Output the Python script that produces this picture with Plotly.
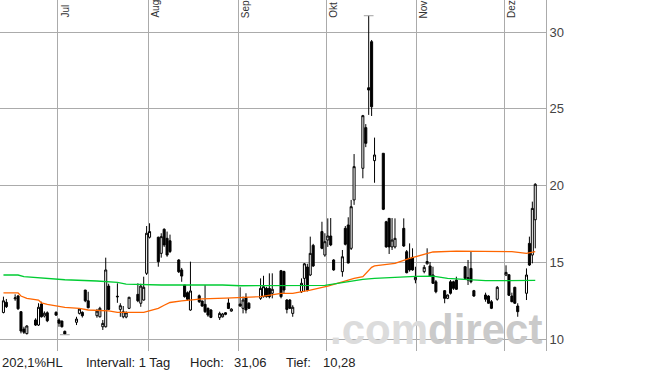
import pandas as pd
import plotly.graph_objects as go

# ---------------- data ----------------
dates = ["2008-06-12","2008-06-13","2008-06-16","2008-06-17","2008-06-18","2008-06-19","2008-06-20",
         "2008-06-23","2008-06-24","2008-06-25","2008-06-26","2008-06-27","2008-06-30",
         "2008-07-01","2008-07-02","2008-07-03","2008-07-07","2008-07-08","2008-07-09","2008-07-10","2008-07-11",
         "2008-07-14","2008-07-15","2008-07-16","2008-07-17","2008-07-18","2008-07-21","2008-07-22","2008-07-23",
         "2008-07-24","2008-07-25","2008-07-28","2008-07-29","2008-07-30","2008-07-31","2008-08-01",
         "2008-08-04","2008-08-05","2008-08-06","2008-08-07","2008-08-08","2008-08-11","2008-08-12","2008-08-13",
         "2008-08-14","2008-08-15","2008-08-18","2008-08-19","2008-08-20","2008-08-21","2008-08-22",
         "2008-08-25","2008-08-26","2008-08-27","2008-08-28","2008-08-29",
         "2008-09-01","2008-09-02","2008-09-03","2008-09-04","2008-09-08","2008-09-09","2008-09-10","2008-09-11",
         "2008-09-12","2008-09-15","2008-09-16","2008-09-17","2008-09-18","2008-09-19","2008-09-22","2008-09-23",
         "2008-09-24","2008-09-25","2008-09-26","2008-09-29","2008-09-30",
         "2008-10-01","2008-10-02","2008-10-03","2008-10-06","2008-10-07","2008-10-08","2008-10-09","2008-10-10",
         "2008-10-13","2008-10-14","2008-10-15","2008-10-16","2008-10-17","2008-10-20","2008-10-21","2008-10-22",
         "2008-10-23","2008-10-24","2008-10-27","2008-10-28","2008-10-29","2008-10-30","2008-10-31",
         "2008-11-03","2008-11-04","2008-11-05","2008-11-06","2008-11-07","2008-11-10","2008-11-11","2008-11-12",
         "2008-11-13","2008-11-14","2008-11-17","2008-11-18","2008-11-19","2008-11-20","2008-11-24","2008-11-25",
         "2008-11-26","2008-11-28",
         "2008-12-01","2008-12-02","2008-12-03","2008-12-04","2008-12-05","2008-12-08","2008-12-09","2008-12-10",
         "2008-12-11"]

opens = [11.73,12.39,12.62,12.80,11.78,10.65,10.35,
         11.24,10.91,12.28,11.50,11.71,11.74,
         11.24,11.17,10.50,11.09,11.67,11.74,13.19,12.49,
         11.52,11.45,10.80,10.80,13.45,12.74,11.93,11.45,
         11.43,12.00,12.91,12.33,12.54,14.28,16.63,
         16.63,15.58,17.15,16.56,16.40,15.15,14.50,13.52,
         13.02,11.89,12.82,12.48,12.26,12.00,11.89,
         11.39,11.45,11.71,12.35,11.82,
         12.28,12.00,12.72,12.33,12.65,12.76,13.30,13.30,
         12.98,14.45,14.40,12.54,12.54,11.67,13.08,13.95,
         14.69,14.17,16.10,17.00,15.47,
         16.45,16.71,15.15,14.39,17.21,17.43,15.91,19.06,
         21.12,23.77,26.37,29.37,21.62,22.10,17.64,17.86,
         16.00,16.00,17.21,15.69,15.26,15.32,13.86,
         14.39,14.90,14.76,14.17,13.73,13.15,12.65,13.73,
         13.73,13.84,14.71,13.84,14.60,13.15,12.87,12.80,
         12.43,12.59,
         14.17,14.19,12.80,13.37,12.15,12.98,16.23,15.47,
         17.77]

highs = [12.76,12.61,12.91,12.87,11.80,10.80,10.90,
         11.35,12.33,12.43,11.80,11.80,11.80,
         11.35,11.20,10.55,11.45,12.00,11.80,13.20,13.08,
         11.96,12.10,11.24,15.30,13.60,13.63,12.33,12.15,
         11.80,12.75,13.63,13.60,14.06,17.36,17.54,
         16.67,16.89,17.21,17.00,16.80,15.20,14.63,13.52,
         13.10,15.04,12.90,12.50,13.52,12.05,11.95,
         11.78,11.70,11.75,12.65,12.00,
         13.37,12.76,12.98,12.40,13.95,14.12,13.40,14.28,
         14.28,14.50,14.45,12.60,12.60,12.20,13.95,14.95,
         14.90,16.67,16.20,17.64,16.89,
         17.86,17.88,15.20,15.80,17.36,17.93,19.06,22.05,
         24.60,24.00,31.06,29.48,23.12,22.10,17.70,17.88,
         17.88,17.86,17.86,15.80,16.23,15.91,14.71,
         14.82,15.91,15.02,14.71,13.84,13.19,12.90,13.84,
         13.80,14.06,14.75,15.15,15.69,13.20,13.02,12.85,
         12.54,13.45,
         14.80,14.20,13.02,13.40,12.33,14.60,16.67,18.95,
         20.15]

lows = [11.67,12.02,12.49,11.90,10.37,10.33,10.30,
        10.85,10.85,11.40,11.40,11.10,11.50,
        10.80,10.75,10.28,10.91,11.60,11.40,12.40,12.00,
        11.39,11.40,10.59,10.75,11.89,12.36,11.45,11.35,
        11.35,11.95,12.40,12.10,12.50,14.17,16.55,
        14.71,15.30,16.00,15.36,15.60,14.30,13.73,12.70,
        12.50,11.84,12.35,12.10,11.70,11.45,11.36,
        11.24,11.40,11.55,11.95,11.78,
        12.10,11.67,11.67,11.95,12.55,12.70,12.70,12.65,
        12.65,12.65,13.00,11.67,11.95,11.45,13.00,13.10,
        13.10,14.10,14.70,15.85,15.36,
        16.00,16.05,14.45,14.06,16.10,14.93,15.80,18.74,
        20.47,22.50,24.60,24.53,20.18,18.40,15.95,15.54,
        15.80,15.90,16.00,14.28,14.39,14.45,13.63,
        14.28,14.85,14.06,13.60,12.98,12.33,12.60,12.90,
        13.20,13.20,13.90,13.52,13.63,12.75,12.43,12.30,
        11.95,12.50,
        14.10,12.80,12.40,12.30,11.45,12.54,14.76,14.93,
        15.91]

closes = [12.49,12.11,12.68,11.97,10.52,10.44,10.85,
          10.91,12.07,11.45,11.68,11.19,11.56,
          11.03,10.80,10.33,11.30,11.95,11.52,12.49,12.04,
          11.82,12.00,11.02,14.50,11.93,12.78,12.17,11.78,
          11.71,12.72,12.49,13.45,13.37,16.89,17.00,
          15.04,16.67,16.13,15.47,15.70,14.38,14.10,12.76,
          12.59,13.13,12.43,12.15,11.78,11.56,11.41,
          11.67,11.63,11.61,11.99,11.95,
          12.15,12.54,11.89,12.00,13.30,13.41,12.76,12.76,
          13.24,12.76,13.19,11.93,12.00,12.07,13.63,14.90,
          13.19,15.58,14.76,15.91,16.34,
          16.71,16.13,14.50,15.36,16.17,14.95,18.62,21.23,
          24.55,22.75,26.22,25.13,21.99,18.45,16.00,16.00,
          16.45,16.56,16.06,14.32,14.50,14.50,14.02,
          14.67,15.05,14.10,13.63,13.08,12.65,12.87,12.98,
          13.30,13.24,13.95,14.00,13.73,12.80,12.59,12.33,
          12.00,13.37,
          14.34,12.85,12.43,12.33,11.78,14.17,14.82,18.51,
          20.08]

ma_short_dates = ["2008-06-12","2008-06-17","2008-06-18","2008-06-20","2008-06-24","2008-06-25","2008-06-27",
                  "2008-07-01","2008-07-03","2008-07-08","2008-07-11","2008-07-18","2008-07-21","2008-07-30",
                  "2008-08-04","2008-08-06","2008-08-08","2008-08-12","2008-08-19","2008-08-27","2008-09-08",
                  "2008-09-15","2008-09-19","2008-09-25","2008-10-01","2008-10-06","2008-10-10","2008-10-13",
                  "2008-10-16","2008-10-17","2008-10-24","2008-10-29","2008-11-04","2008-11-06","2008-11-14",
                  "2008-11-26","2008-12-03","2008-12-08","2008-12-11"]
ma_short = [13.00,13.00,12.80,12.65,12.54,12.36,12.26,
            12.15,12.06,12.00,11.89,11.83,11.74,11.74,
            12.00,12.20,12.38,12.49,12.62,12.67,12.76,
            12.98,12.98,13.19,13.45,13.73,13.95,14.06,
            14.67,14.76,14.93,15.26,15.54,15.67,15.73,
            15.73,15.69,15.58,15.69]

ma_long_dates = ["2008-06-12","2008-06-17","2008-06-19","2008-06-23","2008-06-27","2008-07-03","2008-07-14",
                 "2008-07-21","2008-07-24","2008-07-29","2008-08-05","2008-08-26","2008-09-01","2008-09-30",
                 "2008-10-06","2008-10-13","2008-10-17","2008-10-24","2008-10-31","2008-11-06","2008-11-11",
                 "2008-11-24","2008-12-11"]
ma_long = [14.17,14.17,14.06,14.00,13.91,13.86,13.78,
           13.69,13.58,13.56,13.52,13.52,13.47,13.50,
           13.69,13.89,13.95,14.02,14.08,14.10,13.95,
           13.80,13.82]

month_starts = ["2008-07-01","2008-08-01","2008-09-01","2008-10-01","2008-11-01","2008-12-01"]
month_labels = ["Jul","Aug","Sep","Okt","Nov","Dez"]
y_ticks = [10, 15, 20, 25, 30]

hoch, hoch_date = 31.06, "2008-10-15"
tief, tief_date = 10.28, "2008-07-03"
info_texts = ["202,1%HL", "Intervall: 1 Tag", "Hoch:", "31,06", "Tief:", "10,28"]
info_x_px = [0, 84, 188, 232, 284, 321]

# ---------------- figure ----------------
W, H = 645, 374
L, R, T, B = 0, 99, 0, 23
PW, PH = W - L - R, H - T - B
half_day = pd.Timedelta(hours=12)

x = pd.to_datetime(dates) + half_day
GRID = "#ababab"
FONT = "Liberation Sans, Arial, sans-serif"

fig = go.Figure()
fig.add_trace(go.Candlestick(
    x=x, open=opens, high=highs, low=lows, close=closes,
    increasing=dict(line=dict(color="black", width=1), fillcolor="white"),
    decreasing=dict(line=dict(color="black", width=1), fillcolor="black"),
    whiskerwidth=0, showlegend=False, hoverinfo="skip"))

fig.add_trace(go.Scatter(x=pd.to_datetime(ma_short_dates) + half_day, y=ma_short, mode="lines",
                         line=dict(color="#ff6600", width=1.3), showlegend=False, hoverinfo="skip"))
fig.add_trace(go.Scatter(x=pd.to_datetime(ma_long_dates) + half_day, y=ma_long, mode="lines",
                         line=dict(color="#00cc33", width=1.3), showlegend=False, hoverinfo="skip"))

# high / low markers
for d, v in [(hoch_date, hoch), (tief_date, tief)]:
    c = pd.Timestamp(d) + half_day
    fig.add_trace(go.Scatter(x=[c - pd.Timedelta(hours=40), c + pd.Timedelta(hours=40)], y=[v, v],
                             mode="lines", line=dict(color="#a0a0a0", width=1),
                             showlegend=False, hoverinfo="skip"))

x0 = pd.Timestamp("2008-07-01") - pd.Timedelta(days=19.68)
x1 = pd.Timestamp("2008-07-01") + pd.Timedelta(days=167.18)

fig.update_layout(
    width=W, height=H, margin=dict(l=L, r=R, t=T, b=B),
    paper_bgcolor="white", plot_bgcolor="white",
    boxgap=0.3, boxgroupgap=0,
    font=dict(family=FONT, size=13, color="#333333"),
    xaxis=dict(type="date", range=[x0, x1], tickvals=pd.to_datetime(month_starts),
               showticklabels=False, showgrid=True, gridcolor=GRID, gridwidth=1,
               zeroline=False, showline=False, rangeslider=dict(visible=False), fixedrange=True),
    yaxis=dict(side="right", range=[9.22, 32.085], tickvals=y_ticks, ticktext=[str(v) for v in y_ticks],
               showgrid=True, gridcolor=GRID, gridwidth=1, zeroline=False,
               showline=True, linecolor=GRID, linewidth=1, ticks="", ticklabelstandoff=0,
               tickfont=dict(family=FONT, size=13, color="#444444"), fixedrange=True),
)

annotations = []
# watermark first (drawn beneath other annotations)
annotations.append(dict(x=329 / PW, y=0, xref="paper", yref="paper",
                        text="<b><span style='color:#dcdcdc'>.com</span><span style='color:#cacaca'>direct</span></b>",
                        showarrow=False, xanchor="left", yanchor="bottom", yshift=-3, borderpad=0,
                        font=dict(family="Liberation Sans, Arial, sans-serif", size=42)))
for d, lab in zip(month_starts, month_labels):
    annotations.append(dict(x=pd.Timestamp(d), y=1 - 19 / PH, xref="x", yref="paper",
                            text=lab, textangle=-90, showarrow=False, xanchor="left", yanchor="bottom",
                            xshift=1, borderpad=0, font=dict(family=FONT, size=10, color="#333333")))
for t, px in zip(info_texts, info_x_px):
    annotations.append(dict(x=px / PW, y=0, xref="paper", yref="paper", text=t, showarrow=False,
                            xanchor="left", yanchor="middle", yshift=-11,
                            font=dict(family=FONT, size=13, color="#222222")))
fig.update_layout(annotations=annotations)

fig.write_html("out.html")
